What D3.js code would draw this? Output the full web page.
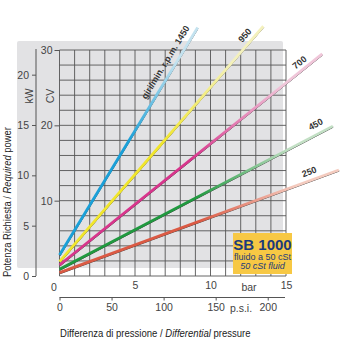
<!DOCTYPE html>
<html>
<head>
<meta charset="utf-8">
<script src="https://cdn.jsdelivr.net/npm/d3@7"></script>
<style>
  html, body { margin: 0; padding: 0; background: #fff; }
  svg { display: block; }
  text { font-family: "Liberation Sans", Arial, sans-serif; }
</style>
</head>
<body>
<svg id="chart" width="340" height="340"></svg>
<script>
// Pump speed curves (rpm) and their straight power lines: CV = intercept + slope * bar
const rpm = [1450, 950, 700, 450, 250];
const intercepts = [2.79, 1.9, 1.46, 0.89, 0.44];
const slopes = [3.30, 2.315, 1.61, 1.05, 0.737];
const endBar = [9.15, 13.5, 17.4, 18.1, 18.5];
const curveLabels = ["giri/min. r.p.m. 1450", "950", "700", "450", "250"];

// Axis ticks
const barTicks = [5, 10, 15];
const psiTicks = [0, 50, 100, 150, 200];
const kwTicks = [0, 5, 10, 15, 20];
const cvTicks = [10, 20, 30];

// Drawing style for each curve
const strong = ["#1aa0d8", "#f1e62c", "#d8358c", "#20993f", "#db5a44"];
const pale   = ["#c3e2ef", "#f4f1bd", "#f0c6d9", "#c3e0c5", "#f4cbbf"];
const labelAt = [9.0, 13.0, 16.6, 17.7, 17.2];    // bar position where each label ends
const labelLift = [6.5, 5, 4.5, 6.5, 5.5];         // px above the line

const svg = d3.select("#chart");

const x = d3.scaleLinear().domain([0, 15]).range([59.5, 286]);
const y = d3.scaleLinear().domain([0, 30]).range([276, 50]);
const yKw = d3.scaleLinear().domain([0, 22.45]).range([276, 50]);
const xPsi = d3.scaleLinear().domain([0, 15 * 14.5038]).range([59.5, 286]);

// grey panel behind the grid
svg.append("rect")
  .attr("x", 17).attr("y", 41).attr("width", 266).attr("height", 227)
  .attr("rx", 2).attr("fill", "#e2e2e4");

// grid: one column per bar, one row per 2 CV
const grid = svg.append("g").attr("stroke", "#555").attr("stroke-width", 0.9);
grid.selectAll("line.v").data(d3.range(0, 16)).join("line")
  .attr("x1", d => x(d)).attr("x2", d => x(d))
  .attr("y1", y(30)).attr("y2", y(0));
grid.selectAll("line.h").data(d3.range(0, 31, 2)).join("line")
  .attr("x1", x(0)).attr("x2", x(15))
  .attr("y1", d => y(d)).attr("y2", d => y(d));

function styleTicks(g) {
  g.selectAll(".tick line").attr("stroke", "#555");
  g.selectAll("text").attr("font-size", 10.5).attr("fill", "#444")
    .attr("font-family", "Liberation Sans, Arial, sans-serif");
}

// kW axis
const kwAxis = svg.append("g").attr("transform", "translate(36,0)")
  .call(d3.axisLeft(yKw).tickValues(kwTicks).tickSize(4).tickSizeOuter(0).tickPadding(3));
kwAxis.select(".domain").attr("stroke", "#555").attr("d", `M0,${yKw(0)}V${y(30) - 1}`);
styleTicks(kwAxis);

// CV axis
const cvAxis = svg.append("g").attr("transform", `translate(${x(0)},0)`)
  .call(d3.axisLeft(y).tickValues(cvTicks).tickSize(5).tickSizeOuter(0).tickPadding(2));
cvAxis.select(".domain").remove();
styleTicks(cvAxis);

// unit captions on the vertical axes
svg.append("text").attr("transform", "translate(33,96) rotate(-90)")
  .attr("text-anchor", "middle").attr("font-size", 10.5).attr("fill", "#444").text("kW");
svg.append("text").attr("transform", "translate(53.5,96) rotate(-90)")
  .attr("text-anchor", "middle").attr("font-size", 10.5).attr("fill", "#444").text("CV");

// bar axis (labels only)
const barAxis = svg.append("g").attr("transform", `translate(0,${y(0)})`)
  .call(d3.axisBottom(x).tickValues(barTicks).tickSize(0).tickPadding(6));
barAxis.select(".domain").remove();
styleTicks(barAxis);
svg.append("text").attr("x", 54).attr("y", 291).attr("text-anchor", "middle")
  .attr("font-size", 10.5).attr("fill", "#444").text("0");
svg.append("text").attr("x", 249).attr("y", 291).attr("text-anchor", "middle")
  .attr("font-size", 10.5).attr("fill", "#444").text("bar");

// p.s.i. axis
const psiAxis = svg.append("g").attr("transform", "translate(0,297.5)")
  .call(d3.axisBottom(xPsi).tickValues(psiTicks).tickSize(3).tickSizeOuter(0).tickPadding(3));
psiAxis.select(".domain").attr("stroke", "#555").attr("d", `M${x(0)},0H${x(15) - 1}`);
styleTicks(psiAxis);
svg.append("text").attr("x", 241).attr("y", 312).attr("text-anchor", "middle")
  .attr("font-size", 10.5).attr("fill", "#444").text("p.s.i.");

// axis titles, squeezed horizontally to a narrow face
function title(transform, width, parts) {
  const g = svg.append("g").attr("transform", transform);
  const t = g.append("text").attr("font-size", 10.5).attr("fill", "#222")
    .attr("font-family", "Lato, sans-serif");
  parts.forEach(([s, it]) => t.append("tspan").attr("font-style", it ? "italic" : null).text(s));
  const len = t.node().getComputedTextLength();
  t.attr("transform", `scale(${width / len},1)`);
  return g;
}
title("translate(60,336.5)", 191,
  [["Differenza di pressione / ", false], ["Differential", true], [" pressure", false]]);
title("translate(10.5,277) rotate(-90)", 150,
  [["Potenza Richiesta / ", false], ["Required", true], [" power", false]]);

// power lines
const defs = svg.append("defs");
const line = d3.line().x(d => x(d[0])).y(d => y(d[1]));
const curves = rpm.map((r, i) => ({
  rpm: r, i,
  pts: [[0, intercepts[i]], [endBar[i], intercepts[i] + slopes[i] * endBar[i]]]
}));

curves.forEach(c => {
  const g = defs.append("linearGradient").attr("id", "grad" + c.rpm)
    .attr("gradientUnits", "userSpaceOnUse")
    .attr("x1", x(c.pts[0][0])).attr("y1", y(c.pts[0][1]))
    .attr("x2", x(c.pts[1][0])).attr("y2", y(c.pts[1][1]));
  g.append("stop").attr("offset", 0).attr("stop-color", strong[c.i]);
  g.append("stop").attr("offset", 0.5).attr("stop-color", strong[c.i]);
  g.append("stop").attr("offset", 0.85).attr("stop-color", pale[c.i]);
  g.append("stop").attr("offset", 1).attr("stop-color", pale[c.i]);
});

const lines = svg.append("g");
lines.selectAll("path.edge").data(curves).join("path")
  .attr("d", c => line(c.pts)).attr("transform", "translate(0.4,1.1)")
  .attr("fill", "none").attr("stroke", "#3a3a3a").attr("stroke-width", 1);
lines.selectAll("path.band").data(curves).join("path")
  .attr("d", c => line(c.pts))
  .attr("fill", "none").attr("stroke", c => `url(#grad${c.rpm})`).attr("stroke-width", 2.8);

// curve labels, written along each line
svg.append("g").selectAll("text").data(curves).join("text")
  .attr("transform", c => {
    const p0 = [x(c.pts[0][0]), y(c.pts[0][1])];
    const p1 = [x(c.pts[1][0]), y(c.pts[1][1])];
    const ang = Math.atan2(p1[1] - p0[1], p1[0] - p0[0]) * 180 / Math.PI;
    const b = labelAt[c.i];
    const px = x(b), py = y(intercepts[c.i] + slopes[c.i] * b);
    return `translate(${px},${py}) rotate(${ang}) translate(0,${-labelLift[c.i]})`;
  })
  .attr("text-anchor", "end").attr("font-size", 9).attr("font-weight", "bold")
  .attr("fill", "#333").text(c => curveLabels[c.i]);

// model badge
const badge = svg.append("g");
badge.append("rect").attr("x", 233).attr("y", 233).attr("width", 59).attr("height", 41)
  .attr("fill", "#f7c844");
badge.append("text").attr("x", 262.5).attr("y", 249.5).attr("text-anchor", "middle")
  .attr("font-size", 15).attr("font-weight", "bold").attr("fill", "#1d3b7a")
  .attr("font-family", "Lato, sans-serif").text("SB 1000");
badge.append("text").attr("x", 262.5).attr("y", 259.5).attr("text-anchor", "middle")
  .attr("font-size", 9).attr("fill", "#1d3b7a")
  .attr("font-family", "Lato, sans-serif").text("fluido a 50 cSt");
badge.append("text").attr("x", 262.5).attr("y", 269).attr("text-anchor", "middle")
  .attr("font-size", 9).attr("font-style", "italic").attr("fill", "#1d3b7a")
  .attr("font-family", "Lato, sans-serif").text("50 cSt fluid");
</script>
</body>
</html>
